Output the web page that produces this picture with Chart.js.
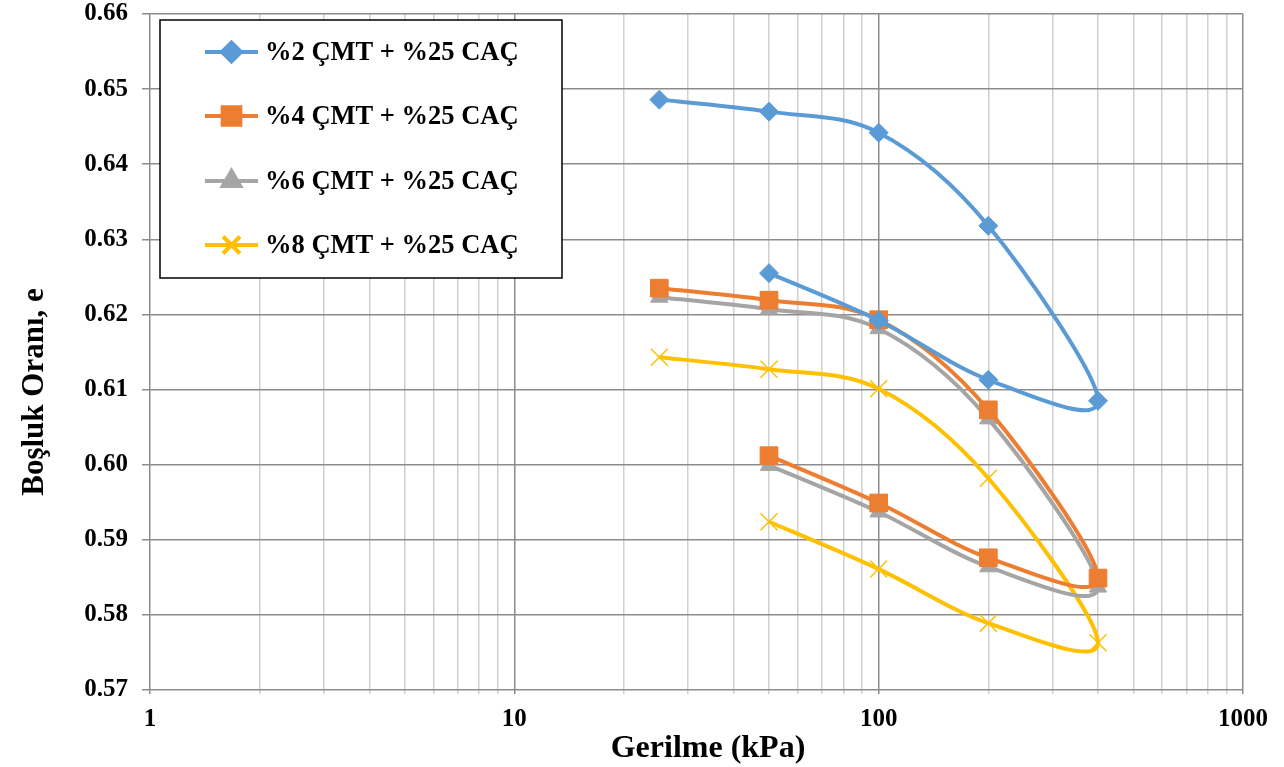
<!DOCTYPE html>
<html>
<head>
<meta charset="utf-8">
<script src="https://cdn.jsdelivr.net/npm/chart.js@4/dist/chart.umd.min.js"></script>
<style>
  html, body { margin: 0; padding: 0; background: #fff; }
  #wrap { width: 1284px; height: 767px; position: relative; }
</style>
</head>
<body>
<div id="wrap"><canvas id="chart"></canvas></div>
<script>
// gerilme (kPa): yükleme 25→400, sonra boşaltma 400→50
const stress = [25, 50, 100, 200, 400, 200, 100, 50];
const seriesNames = ["%2 ÇMT + %25 CAÇ", "%4 ÇMT + %25 CAÇ", "%6 ÇMT + %25 CAÇ", "%8 ÇMT + %25 CAÇ"];
const e2 = [0.6486, 0.6470, 0.6442, 0.6318, 0.6085, 0.6113, 0.6192, 0.6255];
const e4 = [0.6235, 0.6219, 0.6193, 0.6073, 0.5849, 0.5876, 0.5949, 0.6012];
const e6 = [0.6223, 0.6207, 0.6181, 0.6061, 0.5837, 0.5864, 0.5937, 0.5999];
const e8 = [0.6143, 0.6127, 0.6101, 0.5982, 0.5763, 0.5789, 0.5861, 0.5924];
const yTicks = [0.57, 0.58, 0.59, 0.60, 0.61, 0.62, 0.63, 0.64, 0.65, 0.66];
const xTitle = "Gerilme (kPa)";
const yTitle = "Boşluk Oranı, e";

const colors = ["#5B9BD5", "#ED7D31", "#A5A5A5", "#FFC000"];
const styles = ["rectRot", "rect", "triangle", "crossRot"];
const radii = [9.5, 12.5, 10, 12];
const allE = [e2, e4, e6, e8];

const font = "'Liberation Serif', 'Times New Roman', serif";

const datasets = allE.map((vals, i) => ({
    label: seriesNames[i],
    data: stress.map((s, j) => ({ x: s, y: vals[j] })),
    showLine: true,
    borderColor: colors[i],
    backgroundColor: colors[i],
    borderWidth: 4,
    tension: 0.5,
    pointStyle: styles[i],
    pointRadius: radii[i],
    pointBorderWidth: i === 3 ? 1.5 : 1,
    pointBorderColor: colors[i],
    pointBackgroundColor: colors[i]
}));

// Excel tarzı yumuşatılmış çizgi: kontrol noktaları (P[i+1]-P[i-1])/6
const excelSpline = {
    id: "excelSpline",
    beforeDatasetDraw(chart, args) {
        const line = args.meta.dataset;
        const pts = args.meta.data;
        const n = pts.length;
        for (let i = 0; i < n; i++) {
            const p = pts[i];
            const prev = pts[Math.max(i - 1, 0)];
            const next = pts[Math.min(i + 1, n - 1)];
            const tx = (next.x - prev.x) / 6;
            const ty = (next.y - prev.y) / 6;
            p.cp1x = p.x - tx;
            p.cp1y = p.y - ty;
            p.cp2x = p.x + tx;
            p.cp2y = p.y + ty;
        }
        line._pointsUpdated = true;
        line._path = undefined;
    }
};

// eksen başlıkları (Excel'deki konumlarına göre)
const axisTitles = {
    id: "axisTitles",
    afterDraw(chart) {
        const ctx = chart.ctx;
        ctx.save();
        ctx.fillStyle = "#000";
        ctx.font = "bold 32px " + font;
        ctx.textAlign = "center";
        ctx.textBaseline = "alphabetic";
        ctx.fillText(xTitle, 708, 757);
        ctx.translate(35, 392);
        ctx.rotate(-Math.PI / 2);
        ctx.font = "bold 31px " + font;
        ctx.textBaseline = "middle";
        ctx.fillText(yTitle, 0, 0);
        ctx.restore();
    }
};

// lejant kutusu (grafik alanı içinde, sol üst)
const boxLegend = {
    id: "boxLegend",
    afterDraw(chart) {
        const ctx = chart.ctx;
        const x0 = 160, y0 = 20, w = 402, h = 258;
        ctx.save();
        ctx.fillStyle = "#fff";
        ctx.fillRect(x0, y0, w, h);
        ctx.strokeStyle = "#000";
        ctx.lineWidth = 1.5;
        ctx.strokeRect(x0, y0, w, h);
        const rows = [52, 116, 181, 245];
        chart.data.datasets.forEach((ds, i) => {
            const y = rows[i];
            ctx.strokeStyle = ds.borderColor;
            ctx.lineWidth = 4;
            ctx.beginPath();
            ctx.moveTo(205, y);
            ctx.lineTo(258, y);
            ctx.stroke();
            ctx.fillStyle = ds.backgroundColor;
            Chart.helpers.drawPoint(ctx, {
                pointStyle: ds.pointStyle,
                radius: ds.pointRadius,
                rotation: 0,
                borderWidth: ds.pointBorderWidth
            }, 231.5, y);
            ctx.fillStyle = "#000";
            ctx.font = "bold 26.5px " + font;
            ctx.textBaseline = "middle";
            ctx.textAlign = "left";
            ctx.fillText(ds.label, 265, y + 1);
        });
        ctx.restore();
    }
};

new Chart(document.getElementById("chart"), {
    type: "scatter",
    data: { datasets },
    options: {
        responsive: true,
        maintainAspectRatio: false,
        animation: false,
        layout: { autoPadding: false, padding: { top: 14, right: 41, left: 0, bottom: 0 } },
        plugins: {
            legend: { display: false },
            tooltip: { enabled: false }
        },
        scales: {
            x: {
                type: "logarithmic",
                min: 1,
                max: 1000,
                afterBuildTicks(scale) {
                    const t = [];
                    for (let d = 1; d < 1000; d *= 10) {
                        for (let k = 1; k < 10; k++) t.push({ value: k * d, major: k === 1 });
                    }
                    t.push({ value: 1000, major: true });
                    scale.ticks = t;
                },
                afterFit(scale) { scale.height = 77; },
                ticks: {
                    autoSkip: false,
                    maxRotation: 0,
                    padding: 11,
                    color: "#000",
                    font: { family: font, size: 25, weight: "bold" },
                    callback(v) {
                        return [1, 10, 100, 1000].includes(v) ? String(v) : "";
                    }
                },
                grid: {
                    color: c => (c.tick && [1, 10, 100, 1000].includes(c.tick.value)) ? "#8c8c8c" : "#d0d0d0",
                    lineWidth: 1.5,
                    tickLength: 4,
                    drawTicks: true
                },
                border: { display: false },
                title: { display: false }
            },
            y: {
                min: 0.57,
                max: 0.66,
                afterBuildTicks(scale) {
                    scale.ticks = yTicks.map(v => ({ value: v }));
                },
                afterFit(scale) {
                    scale.width = 150;
                    scale.paddingTop = 0;
                    scale.paddingBottom = 0;
                },
                ticks: {
                    padding: 14,
                    color: "#000",
                    font: { family: font, size: 25, weight: "bold" },
                    callback: v => v.toFixed(2)
                },
                grid: {
                    color: "#8c8c8c",
                    lineWidth: 1.5,
                    tickLength: 8
                },
                border: { display: false },
                title: { display: false }
            }
        }
    },
    plugins: [excelSpline, axisTitles, boxLegend]
});
</script>
</body>
</html>
